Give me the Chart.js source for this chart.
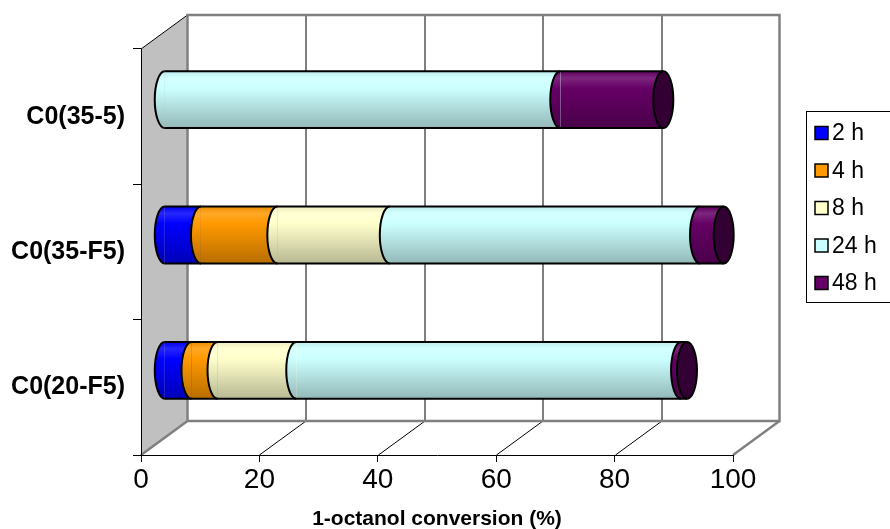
<!DOCTYPE html>
<html><head><meta charset="utf-8">
<script src="https://cdn.jsdelivr.net/npm/chart.js@4.4.1/dist/chart.umd.min.js"></script>
<style>html,body{margin:0;padding:0;background:#fff;} #wrap{width:890px;height:529px;position:relative;}</style>
</head><body><div id="wrap"><canvas id="c" width="890" height="529"></canvas></div>
<script>
const categories = ['C0(35-5)', 'C0(35-F5)', 'C0(20-F5)'];
const seriesLabels = ['2 h', '4 h', '8 h', '24 h', '48 h'];
const h2  = [0,    6.2,  4.6];
const h4  = [0,    12.9, 4.4];
const h8  = [0,    19.0, 13.3];
const h24 = [66.9, 52.4, 65.0];
const h48 = [17.4, 4.0,  1.0];
const xTicks = [0, 20, 40, 60, 80, 100];
const seriesColors = ['#0000ff', '#ff9900', '#ffffcc', '#ccffff', '#660066'];
const seriesValues = [h2, h4, h8, h24, h48];

const FONT = '"Liberation Sans", Arial, sans-serif';
const DX = 46.5, DY = -34;      // 3D depth offset of back wall
const BAR_PCT = 0.42;
const RX = 10;

function rgb(h){const n=parseInt(h.slice(1),16);return [(n>>16)&255,(n>>8)&255,n&255];}
function shade(h,f){const c=rgb(h);return 'rgb('+c.map(v=>Math.round(v*f)).join(',')+')';}
function tint(h,f){const c=rgb(h);return 'rgb('+c.map(v=>Math.round(v+(255-v)*f)).join(',')+')';}
function grad(ctx,col,y0,y1){
  const g=ctx.createLinearGradient(0,y0,0,y1);
  g.addColorStop(0,shade(col,0.92));
  g.addColorStop(0.12,tint(col,0.15));
  g.addColorStop(0.3,col);
  g.addColorStop(1,shade(col,0.72));
  return g;
}
function barBounds(chart,idx){
  const ys=chart.scales.y;
  const yc=ys.getPixelForValue(idx);
  const half=(ys.bottom-ys.top)/categories.length*BAR_PCT/2;
  return [yc-half,yc+half];
}

const wallsPlugin={
  id:'walls',
  beforeDraw(chart){
    const ctx=chart.ctx, xs=chart.scales.x, ys=chart.scales.y;
    const L=xs.getPixelForValue(xTicks[0]), R=xs.getPixelForValue(xTicks[xTicks.length-1]);
    const T=ys.top, B=ys.bottom;
    ctx.save();
    ctx.beginPath();ctx.moveTo(L,T);ctx.lineTo(L+DX,T+DY);ctx.lineTo(L+DX,B+DY);ctx.lineTo(L,B);ctx.closePath();
    ctx.fillStyle='#c0c0c0';ctx.fill();
    ctx.strokeStyle='#000';ctx.lineWidth=1;
    ctx.beginPath();ctx.moveTo(L,T);ctx.lineTo(L+DX,T+DY);ctx.stroke();
    ctx.fillStyle='#fff';ctx.fillRect(L+DX,T+DY,R-L,B-T);
    ctx.strokeStyle='#000';ctx.lineWidth=1;
    xTicks.slice(1,-1).forEach(v=>{
      const x=Math.round(xs.getPixelForValue(v))+0.5;
      ctx.beginPath();ctx.moveTo(x+DX,T+DY);ctx.lineTo(x+DX,B+DY);ctx.stroke();
      ctx.beginPath();ctx.moveTo(x,B);ctx.lineTo(x+DX,B+DY);ctx.stroke();
    });
    ctx.strokeStyle='#808080';ctx.lineWidth=2.5;
    ctx.beginPath();
    ctx.moveTo(L+DX,B+DY);ctx.lineTo(L+DX,T+DY);ctx.lineTo(R+DX,T+DY);ctx.lineTo(R+DX,B+DY);ctx.lineTo(L+DX,B+DY);
    ctx.stroke();
    ctx.beginPath();ctx.moveTo(L,B);ctx.lineTo(L+DX,B+DY);ctx.stroke();
    ctx.beginPath();ctx.moveTo(R,B);ctx.lineTo(R+DX,B+DY);ctx.stroke();
    ctx.restore();
  }
};

const cylPlugin={
  id:'cyl',
  beforeDatasetsDraw(chart){
    chart.ctx.save();
    chart.ctx.translate(DX/2,DY/2);
  },
  afterDatasetsDraw(chart){
    const ctx=chart.ctx;
    const metas=seriesValues.map((_,d)=>chart.getDatasetMeta(d));
    for(let i=0;i<categories.length;i++){
      const segs=[];
      metas.forEach((m,d)=>{
        const el=m.data[i]; if(!el) return;
        const p=el.getProps(['x','y','base','height'],true);
        if(Math.abs(p.x-p.base)<0.3) return;
        segs.push({s:Math.min(p.base,p.x),e:Math.max(p.base,p.x),y:p.y,h:p.height,d});
      });
      if(!segs.length) continue;
      const y=segs[0].y, ry=segs[0].h/2, last=segs[segs.length-1];
      segs.forEach(sg=>{
        ctx.beginPath();ctx.ellipse(sg.s,y,RX,ry,0,Math.PI/2,Math.PI*1.5);ctx.closePath();
        ctx.fillStyle=grad(ctx,seriesColors[sg.d],y-ry,y+ry);ctx.fill();
      });
      ctx.beginPath();ctx.ellipse(last.e,y,RX,ry,0,0,Math.PI*2);
      ctx.fillStyle=shade(seriesColors[last.d],0.5);ctx.fill();
      ctx.strokeStyle='#000';ctx.lineWidth=2;
      ctx.beginPath();
      ctx.moveTo(segs[0].s,y-ry);ctx.lineTo(last.e,y-ry);
      ctx.moveTo(segs[0].s,y+ry);ctx.lineTo(last.e,y+ry);
      ctx.stroke();
      segs.forEach(sg=>{ctx.beginPath();ctx.ellipse(sg.s,y,RX,ry,0,Math.PI/2,Math.PI*1.5);ctx.stroke();});
      ctx.beginPath();ctx.ellipse(last.e,y,RX,ry,0,0,Math.PI*2);ctx.stroke();
    }
    ctx.restore();
  }
};

const legendPlugin={
  id:'legend3d',
  afterDraw(chart){
    const ctx=chart.ctx;
    ctx.save();
    ctx.strokeStyle='#000';ctx.lineWidth=1;
    ctx.strokeRect(806.5,111.5,100,191);
    ctx.font='23px '+FONT;ctx.textBaseline='middle';ctx.textAlign='left';
    seriesLabels.forEach((lab,k)=>{
      const cy=133+k*37.5;
      ctx.fillStyle=seriesColors[k];ctx.fillRect(815,cy-6.5,13,13);
      ctx.strokeStyle='#000';ctx.lineWidth=1.5;ctx.strokeRect(815,cy-6.5,13,13);
      ctx.fillStyle='#000';ctx.fillText(lab,832,cy+1);
    });
    ctx.restore();
  }
};

const datasets=seriesValues.map((vals,d)=>({
  label:seriesLabels[d],
  data:vals,
  borderWidth:0,
  clip:false,
  barPercentage:BAR_PCT,
  categoryPercentage:1,
  backgroundColor:(c)=>{
    const chart=c.chart;
    if(!chart.chartArea||!chart.scales.y||c.dataIndex===undefined) return seriesColors[d];
    const [y0,y1]=barBounds(chart,c.dataIndex);
    return grad(chart.ctx,seriesColors[d],y0,y1);
  }
}));

new Chart(document.getElementById('c'),{
  type:'bar',
  data:{labels:categories,datasets},
  options:{
    indexAxis:'y',
    responsive:false,
    animation:false,
    devicePixelRatio:1,
    layout:{padding:{top:49,right:157,left:0,bottom:0}},
    plugins:{legend:{display:false},tooltip:{enabled:false}},
    scales:{
      x:{
        stacked:true,min:0,max:100,
        afterBuildTicks:s=>{s.ticks=xTicks.map(v=>({value:v}));},
        afterFit:s=>{s.height=74;},
        grid:{drawOnChartArea:false,tickLength:7,color:'#000'},
        border:{color:'#000',width:1},
        ticks:{font:{family:FONT,size:28},color:'#000',padding:1},
        title:{display:true,text:'1-octanol conversion (%)',font:{family:FONT,size:21,weight:'bold'},color:'#000',padding:{top:0,bottom:-3}}
      },
      y:{
        stacked:true,
        afterFit:s=>{s.width=141;},
        grid:{offset:true,drawOnChartArea:false,tickLength:8,color:'#000'},
        border:{color:'#000',width:1},
        ticks:{font:{family:FONT,size:25,weight:'bold'},color:'#000',padding:8}
      }
    }
  },
  plugins:[wallsPlugin,cylPlugin,legendPlugin]
});
</script>
</body></html>
